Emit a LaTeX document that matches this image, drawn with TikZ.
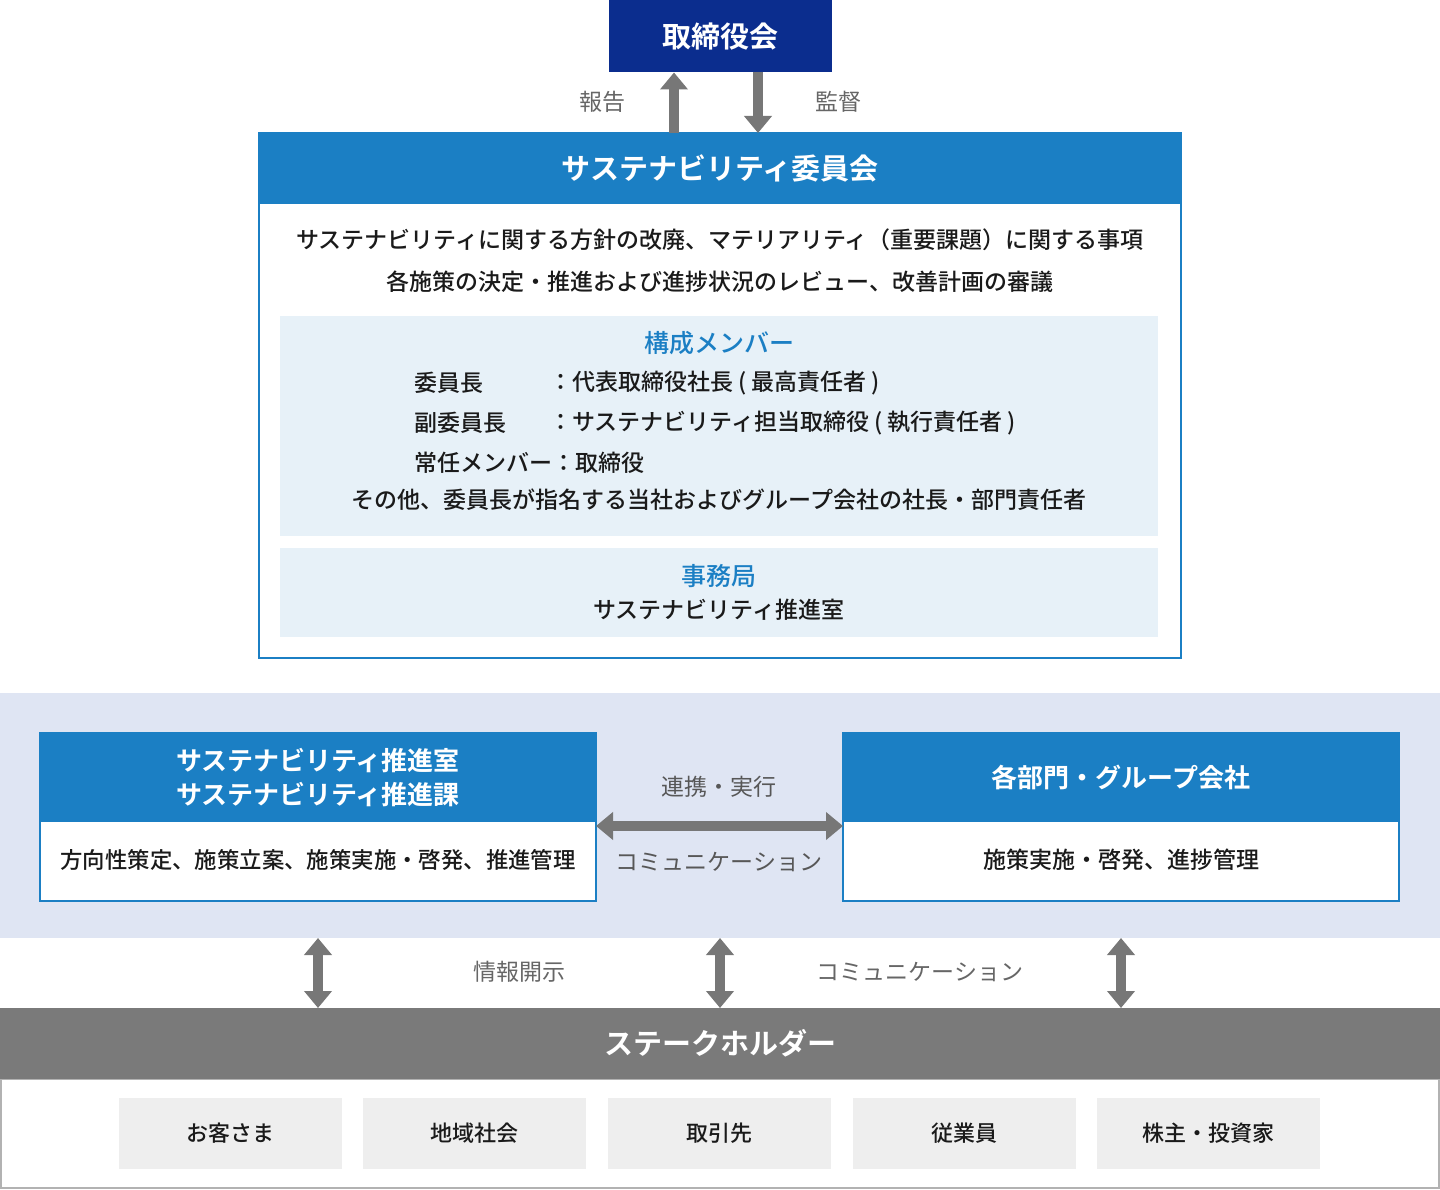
\documentclass[tikz,border=0pt]{standalone}
\usepackage{fontspec}
\setmainfont{Noto Sans CJK JP}[BoldFont={Noto Sans CJK JP Bold}]
\newfontfamily\medfont{Noto Sans CJK JP Medium}
\usepackage{xcolor}
\definecolor{boardblue}{HTML}{0B2D8E}
\definecolor{mainblue}{HTML}{1B7FC4}
\definecolor{panelbg}{HTML}{E7F1F8}
\definecolor{bandbg}{HTML}{DFE5F3}
\definecolor{arrowgray}{HTML}{777777}
\definecolor{textgray}{HTML}{666666}
\definecolor{holdergray}{HTML}{7A7A7A}
\definecolor{itembg}{HTML}{EEEEEE}
\definecolor{textdark}{HTML}{1A1A1A}
\usetikzlibrary{arrows.meta, positioning, calc}

\begin{document}
\begin{tikzpicture}[
        x=1pt, y=-1pt,
        inner sep=0pt, outer sep=0pt,
        board_box/.style={
            rectangle,
            fill=boardblue,
            minimum width=223pt,
            minimum height=72pt,
            text=white,
            font=\fontsize{29}{34}\selectfont\bfseries
        },
        head_box/.style={
            rectangle,
            fill=mainblue,
            text=white,
            align=center,
            font=\fontsize{26}{34}\selectfont\bfseries
        },
        frame_box/.style={
            rectangle,
            fill=white,
            draw=mainblue,
            line width=2pt
        },
        panel_box/.style={
            rectangle,
            fill=panelbg,
            minimum width=878pt
        },
        body_text/.style={
            text=textdark,
            align=center,
            font=\fontsize{23}{42}\selectfont\medfont
        },
        blue_title/.style={
            text=mainblue,
            font=\fontsize{25}{30}\selectfont\medfont
        },
        label_text/.style={
            text=textgray,
            font=\fontsize{23}{28}\selectfont
        },
        item_box/.style={
            rectangle,
            fill=itembg,
            minimum width=223pt,
            minimum height=71pt,
            text=textdark,
            font=\fontsize{22}{26}\selectfont\medfont
        },
        big_arrow/.style={
            -{Triangle[length=17pt,width=27pt]},
            draw=arrowgray,
            line width=10pt
        },
        both_arrow/.style={
            {Triangle[length=17pt,width=27pt]}-{Triangle[length=17pt,width=27pt]},
            draw=arrowgray,
            line width=10pt
        }
    ]

    \useasboundingbox (0,0) rectangle (1440,1190);

    % Board
    \node[board_box] (board) at (720.5,36.5) {取締役会};

    % Sustainability committee
    \node[frame_box, minimum width=922pt, minimum height=525pt] (comm_box) at (720,395.5) {};
    \node[head_box, minimum width=922pt, minimum height=71pt, font=\fontsize{29}{34}\selectfont\bfseries] (comm_head) at (720,168.5) {サステナビリティ委員会};
    \node[body_text] (comm_duty) at (720,261) {サステナビリティに関する方針の改廃、マテリアリティ（重要課題）に関する事項\\各施策の決定・推進および進捗状況のレビュー、改善計画の審議};

    % Report / supervise
    \draw[big_arrow] ([xshift=-46pt]comm_head.north) -- ([xshift=-46.5pt]board.south);
    \draw[big_arrow] ([xshift=37.5pt]board.south) -- ([xshift=38pt]comm_head.north);
    \node[label_text] (report) at (602,102) {報告};
    \node[label_text] (supervise) at (838,102) {監督};

    % Members
    \node[panel_box, minimum height=220pt] (members) at (719,426) {};
    \node[blue_title] (members_title) at (719,343) {構成メンバー};
    \node[body_text, anchor=west] (chair) at (414,383) {委員長};
    \node[body_text, anchor=west] (chair_who) at (549,383) {：代表取締役社長 ( 最高責任者 )};
    \node[body_text, anchor=west] (vice) at (414,423) {副委員長};
    \node[body_text, anchor=west] (vice_who) at (549,423) {：サステナビリティ担当取締役 ( 執行責任者 )};
    \node[body_text, anchor=west] (regular) at (414,463) {常任メンバー：取締役};
    \node[body_text] (others) at (719,500) {その他、委員長が指名する当社およびグループ会社の社長・部門責任者};

    % Secretariat
    \node[panel_box, minimum height=89pt, below=12pt of members] (office) {};
    \node[blue_title] (office_title) at (719,576) {事務局};
    \node[body_text] (office_name) at (719,610) {サステナビリティ推進室};

    % Execution band
    \node[rectangle, fill=bandbg, minimum width=1440pt, minimum height=245pt] (band) at (720,815.5) {};

    \node[frame_box, minimum width=556pt, minimum height=168pt] (left_box) at (318,817) {};
    \node[head_box, minimum width=556pt, minimum height=89pt] (left_head) at (318,777.5) {サステナビリティ推進室\\サステナビリティ推進課};
    \node[body_text, font=\fontsize{22.4}{28}\selectfont\medfont] (left_task) at (318,860) {方向性策定、施策立案、施策実施・啓発、推進管理};

    \node[frame_box, minimum width=556pt, minimum height=168pt, right=247pt of left_box] (right_box) {};
    \node[head_box, minimum width=556pt, minimum height=89pt] (right_head) at (right_box.north |- left_head) {各部門・グループ会社};
    \node[body_text] (right_task) at (right_box.north |- left_task) {施策実施・啓発、進捗管理};

    \draw[both_arrow] ([yshift=-4pt]left_head.south east) -- ([yshift=-4pt]right_head.south west);
    \node[label_text, text=textgray!85!black] (link) at (719,787) {連携・実行};
    \node[label_text, text=textgray!85!black] (comm_mid) at (719,862) {コミュニケーション};

    % Stakeholders
    \node[rectangle, fill=white, draw=gray!60, line width=2pt, minimum width=1438pt, minimum height=109pt] (holder_box) at (720,1133.5) {};
    \node[rectangle, fill=holdergray, minimum width=1440pt, minimum height=71pt, text=white, font=\fontsize{29}{34}\selectfont\bfseries] (holder_head) at (720,1043.5) {ステークホルダー};

    \node[item_box] (customer) at (230.5,1133.5) {お客さま};
    \node[item_box, right=21pt of customer] (community) {地域社会};
    \node[item_box, right=22pt of community] (partner) {取引先};
    \node[item_box, right=22pt of partner] (employee) {従業員};
    \node[item_box, right=21pt of employee] (investor) {株主・投資家};

    % Disclosure / communication
    \draw[both_arrow] (left_box.south |- band.south) -- (left_box.south |- holder_head.north);
    \draw[both_arrow] (band.south) -- (holder_head.north);
    \draw[both_arrow] (right_box.south |- band.south) -- (right_box.south |- holder_head.north);
    \node[label_text] (disclose) at (519,972) {情報開示};
    \node[label_text] (comm_low) at (920,972) {コミュニケーション};

\end{tikzpicture}
\end{document}
